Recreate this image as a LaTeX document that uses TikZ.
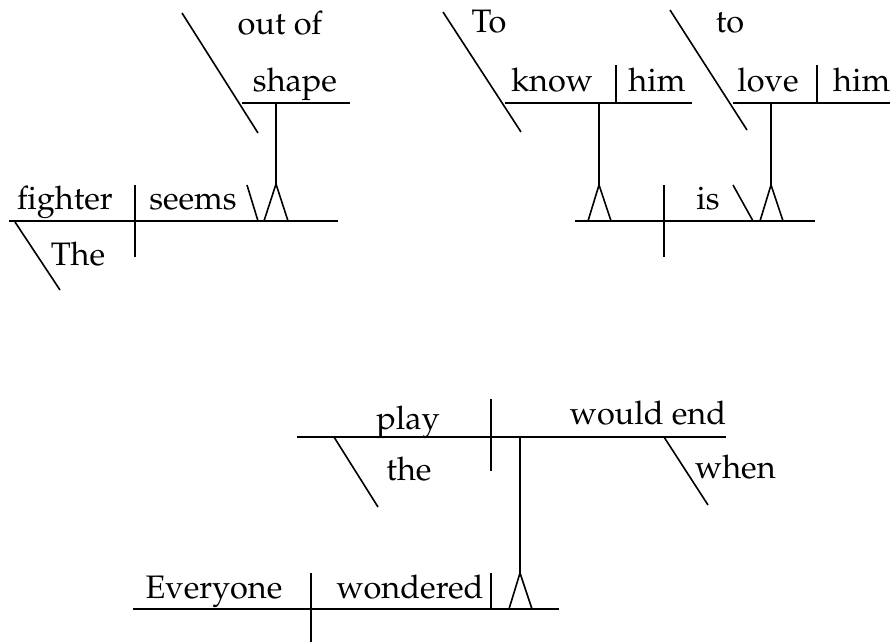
\documentclass[tikz,border=0pt]{standalone}
\usepackage[T1]{fontenc}
\usepackage{mathpazo}
\begin{document}
\begin{tikzpicture}[x=1pt,y=-1pt,
  dl/.style={line width=1.6pt, line cap=butt},
  wd/.style={font=\fontsize{32.5}{38}\selectfont, inner sep=0pt, anchor=base},
  wdl/.style={wd, anchor=base west}]
\useasboundingbox (0,0) rectangle (890,642);

% ---------- The fighter seems out of shape ----------
\coordinate (a1) at (9,221);    \coordinate (a2) at (338,221);
\coordinate (a3) at (135,185);  \coordinate (a4) at (135,257);
\coordinate (a5) at (15,222);   \coordinate (a6) at (60,290);
\coordinate (a7) at (247,185);  \coordinate (a8) at (258,221);
\coordinate (a9) at (276,103);  \coordinate (a10) at (276,184);
\coordinate (a11) at (264,221); \coordinate (a12) at (288,221);
\coordinate (a13) at (242,103); \coordinate (a14) at (350,103);
\coordinate (a15) at (182,13);  \coordinate (a16) at (258,133);
\node[wd] (fighter) at (65,209) {fighter};
\node[wd] (seems) at (193,209) {seems};
\node[wd] (the1) at (78,265) {The};
\node[wd] (outof) at (280,35) {out of};
\node[wd] (shape) at (295,91) {shape};
\draw[dl] (a1) -- (a2);
\draw[dl] (a3) -- (a4);
\draw[dl] (a5) -- (a6);
\draw[dl] (a7) -- (a8);
\draw[dl] (a9) -- (a10);
\draw[dl, line join=miter] (a11) -- (a10) -- (a12);
\draw[dl] (a13) -- (a14);
\draw[dl] (a15) -- (a16);

% ---------- To know him is to love him ----------
\coordinate (b1) at (443,12);   \coordinate (b2) at (521,132);
\coordinate (b3) at (505,103);  \coordinate (b4) at (692,103);
\coordinate (b5) at (616,65);   \coordinate (b6) at (616,103);
\coordinate (b7) at (599,103);  \coordinate (b8) at (599,185);
\coordinate (b9) at (588,221);  \coordinate (b10) at (611,221);
\coordinate (b11) at (575,221); \coordinate (b12) at (815,221);
\coordinate (b13) at (664,185); \coordinate (b14) at (664,257);
\coordinate (b15) at (733,185); \coordinate (b16) at (753,221);
\coordinate (b17) at (771,103); \coordinate (b18) at (771,185);
\coordinate (b19) at (760,221); \coordinate (b20) at (783,221);
\coordinate (b21) at (670,10);  \coordinate (b22) at (747,130);
\coordinate (b23) at (733,103); \coordinate (b24) at (890,103);
\coordinate (b25) at (817,65);  \coordinate (b26) at (817,103);
\node[wd] (To) at (489,33) {To};
\node[wd] (know) at (552,91) {know};
\node[wd] (him1) at (657,91) {him};
\node[wd] (is) at (708,209) {is};
\node[wd] (to) at (730,33) {to};
\node[wd] (love) at (768,91) {love};
\node[wdl] (him2) at (833,91) {him};
\draw[dl] (b1) -- (b2);
\draw[dl] (b3) -- (b4);
\draw[dl] (b5) -- (b6);
\draw[dl] (b7) -- (b8);
\draw[dl, line join=miter] (b9) -- (b8) -- (b10);
\draw[dl] (b11) -- (b12);
\draw[dl] (b13) -- (b14);
\draw[dl] (b15) -- (b16);
\draw[dl] (b17) -- (b18);
\draw[dl, line join=miter] (b19) -- (b18) -- (b20);
\draw[dl] (b21) -- (b22);
\draw[dl] (b23) -- (b24);
\draw[dl] (b25) -- (b26);

% ---------- Everyone wondered when the play would end ----------
\coordinate (c1) at (297,437);  \coordinate (c2) at (726,437);
\coordinate (c3) at (491,399);  \coordinate (c4) at (491,471);
\coordinate (c5) at (334,437);  \coordinate (c6) at (378,507);
\coordinate (c7) at (664,437);  \coordinate (c8) at (708,505);
\coordinate (c9) at (520,437);  \coordinate (c10) at (520,573);
\coordinate (c11) at (509,609); \coordinate (c12) at (532,609);
\coordinate (c13) at (133,609); \coordinate (c14) at (559,609);
\coordinate (c15) at (311,573); \coordinate (c16) at (311,642);
\coordinate (c17) at (491,573); \coordinate (c18) at (491,609);
\node[wd] (play) at (408,429) {play};
\node[wd] (the2) at (409,480) {the};
\node[wd] (wouldend) at (648,424) {would end};
\node[wdl] (when) at (695,478) {when};
\node[wd] (everyone) at (214,598) {Everyone};
\node[wd] (wondered) at (410,598) {wondered};
\draw[dl] (c1) -- (c2);
\draw[dl] (c3) -- (c4);
\draw[dl] (c5) -- (c6);
\draw[dl] (c7) -- (c8);
\draw[dl] (c9) -- (c10);
\draw[dl, line join=miter] (c11) -- (c10) -- (c12);
\draw[dl] (c13) -- (c14);
\draw[dl] (c15) -- (c16);
\draw[dl] (c17) -- (c18);
\end{tikzpicture}
\end{document}
